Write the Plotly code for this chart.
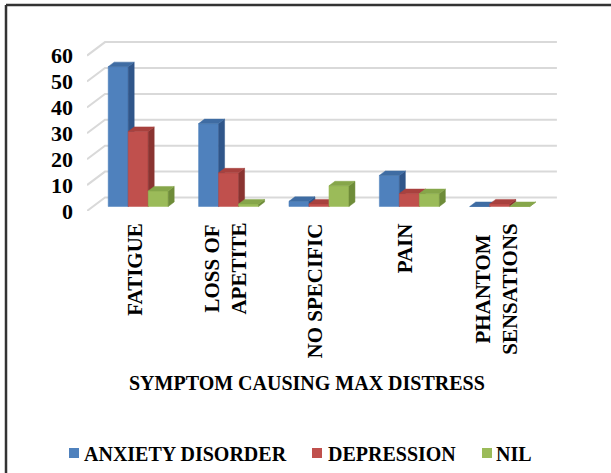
import plotly.graph_objects as go

# ---- data -------------------------------------------------------------
categories = ["FATIGUE", "LOSS OF<br>APETITE", "NO SPECIFIC", "PAIN", "PHANTOM<br>SENSATIONS"]
series_names = ["ANXIETY DISORDER", "DEPRESSION", "NIL"]
anxiety = [54, 32, 2, 12, 0]
depression = [29, 13, 1, 5, 1]
nil = [6, 1, 8, 5, 0]
y_ticks = [0, 10, 20, 30, 40, 50, 60]

# ---- styling ----------------------------------------------------------
front_colors = ["#4f81bd", "#c0504d", "#9bbb59"]
top_colors = ["#3f6ca3", "#a8413e", "#86a64a"]
side_colors = ["#30568a", "#8a3431", "#6e8c39"]
grid_color = "#d9d9d9"
FONT = "Liberation Serif"

W, H = 611, 473
L, T, R, B = 87, 30, 54, 262
PW, PH = W - L - R, H - T - B          # plot area in pixels
PX_PER_UNIT = 2.59                     # vertical pixels per value unit
Y_MAX = PH / PX_PER_UNIT
X_MIN, X_MAX = -0.5, 4.7
X_PX = PW / (X_MAX - X_MIN)            # pixels per category

# oblique projection: full wall depth in pixels, bars sit in the middle third
DEPTH_DX, DEPTH_DY = 18, 13.5
wall_dx, wall_dy = DEPTH_DX / X_PX, DEPTH_DY / PX_PER_UNIT
bar_dx, bar_dy = wall_dx / 3, wall_dy / 3
GROUP_W = 60 / X_PX
BAR_W = GROUP_W / 3


def px_x(p):
    return (p - L) / PW


def px_y(p):
    return (T + PH - p) / PH


fig = go.Figure()

# gridlines: back wall + left wall diagonals
gx, gy = [], []
x_left_back = X_MIN + wall_dx
x_right_back = 4.5 + wall_dx
for v in y_ticks:
    gx += [X_MIN, x_left_back, x_right_back, None]
    gy += [v, v + wall_dy, v + wall_dy, None]
fig.add_trace(go.Scatter(x=gx, y=gy, mode="lines", line=dict(color=grid_color, width=2),
                         hoverinfo="skip", showlegend=False, cliponaxis=False))

# 3-D bars drawn as front / side / top faces
all_series = [anxiety, depression, nil]
for s, vals in enumerate(all_series):
    fx, fy, sx, sy, tx, ty = [], [], [], [], [], []
    for i, v in enumerate(vals):
        xl = i + bar_dx - GROUP_W / 2 + s * BAR_W
        xr = xl + BAR_W
        b = bar_dy
        top = b + v
        fx += [xl, xr, xr, xl, xl, None]
        fy += [b, b, top, top, b, None]
        sx += [xr, xr + bar_dx, xr + bar_dx, xr, xr, None]
        sy += [b, b + bar_dy, top + bar_dy, top, b, None]
        tx += [xl, xr, xr + bar_dx, xl + bar_dx, xl, None]
        ty += [top, top, top + bar_dy, top + bar_dy, top, None]
    for xs, ys, col in ((fx, fy, front_colors[s]), (sx, sy, side_colors[s]), (tx, ty, top_colors[s])):
        fig.add_trace(go.Scatter(x=xs, y=ys, mode="lines", fill="toself", fillcolor=col,
                                 line=dict(color=col, width=0.5), hoverinfo="skip",
                                 showlegend=False, cliponaxis=False))

# category labels (rotated, hanging below the floor)
annotations = []
for i, c in enumerate(categories):
    annotations.append(dict(x=i, y=0, xref="x", yref="y", text="<b>" + c + "</b>", textangle=-90,
                            showarrow=False, xanchor="center", yanchor="top", yshift=-10,
                            xshift=2, align="center",
                            font=dict(family=FONT, size=21, color="#000")))

# axis title
annotations.append(dict(x=px_x(307), y=px_y(383), xref="paper", yref="paper",
                        text="<b>SYMPTOM CAUSING MAX DISTRESS</b>", showarrow=False,
                        xanchor="center", yanchor="middle",
                        font=dict(family=FONT, size=20, color="#000")))

# legend
shapes = []
legend_marker_x = [69, 312, 482]
legend_text_x = [82, 326, 494]
for name, mx, tx, col in zip(series_names, legend_marker_x, legend_text_x, front_colors):
    shapes.append(dict(type="rect", xref="paper", yref="paper",
                       x0=px_x(mx), x1=px_x(mx + 10), y0=px_y(458), y1=px_y(448),
                       fillcolor=col, line=dict(width=0)))
    annotations.append(dict(x=px_x(tx), y=px_y(454), xref="paper", yref="paper",
                            text="<b>" + name + "</b>", showarrow=False,
                            xanchor="left", yanchor="middle",
                            font=dict(family=FONT, size=20, color="#000")))

# chart frame (top and left edges)
shapes.append(dict(type="line", xref="paper", yref="paper", x0=px_x(6), x1=px_x(611),
                   y0=px_y(5), y1=px_y(5), line=dict(color="#333", width=2.5)))
shapes.append(dict(type="line", xref="paper", yref="paper", x0=px_x(6), x1=px_x(6),
                   y0=px_y(5), y1=px_y(473), line=dict(color="#333", width=2.5)))

fig.update_layout(
    width=W, height=H,
    margin=dict(l=L, r=R, t=T, b=B, pad=0),
    paper_bgcolor="white", plot_bgcolor="white",
    showlegend=False,
    font=dict(family=FONT),
    xaxis=dict(range=[X_MIN, X_MAX], showgrid=False, zeroline=False, showline=False,
               showticklabels=False, ticks=""),
    yaxis=dict(range=[0, Y_MAX], showgrid=False, zeroline=False, showline=False,
               tickvals=y_ticks, ticktext=["<b>%d</b>" % v for v in y_ticks], ticks="",
               ticklabelstandoff=13,
               tickfont=dict(family=FONT, size=22, color="#000")),
    annotations=annotations,
    shapes=shapes,
)

fig.write_html("out.html")
